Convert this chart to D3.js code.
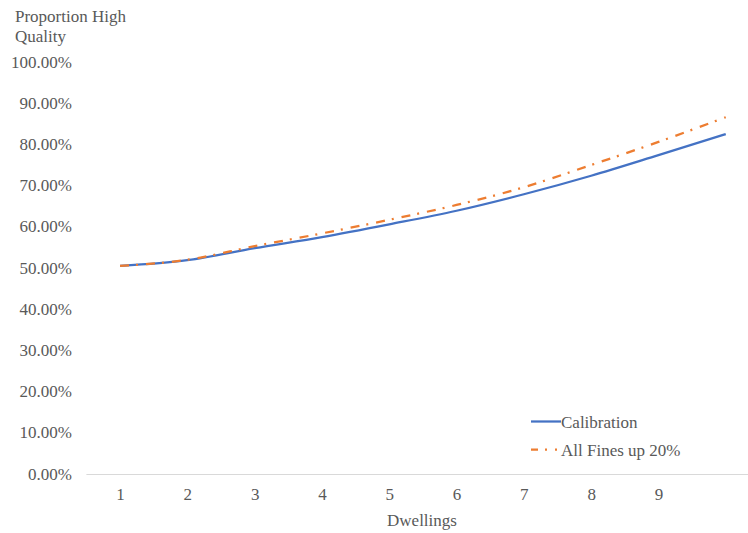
<!DOCTYPE html>
<html>
<head>
<meta charset="utf-8">
<script src="https://cdn.jsdelivr.net/npm/d3@7"></script>
<style>
  body { margin: 0; background: #fff; }
  svg text { font-family: 'Liberation Serif', 'Times New Roman', serif !important; fill: #595959; }
</style>
</head>
<body>
<svg id="chart" width="748" height="533" font-family="Liberation Serif"></svg>
<script>
// Data
const dwellings = [1, 2, 3, 4, 5, 6, 7, 8, 9, 10];
const tickLabels = ["1", "2", "3", "4", "5", "6", "7", "8", "9", ""];
const calibration = [0.505, 0.519, 0.548, 0.575, 0.606, 0.639, 0.679, 0.724, 0.774, 0.825];
const finesUp20 = [0.505, 0.520, 0.553, 0.584, 0.617, 0.653, 0.696, 0.750, 0.806, 0.866];
const yTicks = [0, 0.1, 0.2, 0.3, 0.4, 0.5, 0.6, 0.7, 0.8, 0.9, 1.0];
const seriesNames = ["Calibration", "All Fines up 20%"];

const svg = d3.select("#chart");
const plotLeft = 86.4, step = 67.3, plotTop = 62, plotBottom = 474;
const fs = 17;

const x = d3.scalePoint()
  .domain(dwellings)
  .range([plotLeft + step / 2, plotLeft + step * 9.5]);
const y = d3.scaleLinear().domain([0, 1]).range([plotBottom, plotTop]);

// y axis labels
svg.append("g").selectAll("text")
  .data(yTicks).join("text")
  .attr("x", 72).attr("y", d => y(d) + 5.5)
  .attr("text-anchor", "end")
  .attr("font-size", fs)
  .text(d => d3.format(".2%")(d));

// x axis
const xAxis = d3.axisBottom(x).tickSize(0).tickPadding(14)
  .tickFormat((d, i) => tickLabels[i]);
const gx = svg.append("g").attr("transform", `translate(0,${plotBottom})`).call(xAxis);
gx.attr("font-family", null).attr("font-size", null);
gx.select(".domain").remove();
gx.selectAll("text").attr("font-size", fs).attr("fill", "#595959");
svg.append("line")
  .attr("x1", plotLeft).attr("x2", 748).attr("y1", plotBottom + 0.5).attr("y2", plotBottom + 0.5)
  .attr("stroke", "#d9d9d9").attr("stroke-width", 1);

// titles
svg.append("text").attr("x", 15).attr("y", 22).attr("font-size", fs).text("Proportion High");
svg.append("text").attr("x", 15).attr("y", 42).attr("font-size", fs).text("Quality");
svg.append("text").attr("x", 422).attr("y", 526).attr("text-anchor", "middle").attr("font-size", fs).text("Dwellings");

// lines
const line = d3.line()
  .x((d, i) => x(dwellings[i]))
  .y(d => y(d))
  .curve(d3.curveMonotoneX);

svg.append("path").datum(calibration)
  .attr("d", line).attr("fill", "none")
  .attr("stroke", "#4472C4").attr("stroke-width", 2.25);

svg.append("path").datum(finesUp20)
  .attr("d", line).attr("fill", "none")
  .attr("stroke", "#ED7D31").attr("stroke-width", 2.25)
  .attr("stroke-dasharray", "9,7,2,8");

// legend
const legend = svg.append("g");
legend.append("line").attr("x1", 531).attr("x2", 561).attr("y1", 421.5).attr("y2", 421.5)
  .attr("stroke", "#4472C4").attr("stroke-width", 2.25);
legend.append("line").attr("x1", 531).attr("x2", 561).attr("y1", 449.5).attr("y2", 449.5)
  .attr("stroke", "#ED7D31").attr("stroke-width", 2.25)
  .attr("stroke-dasharray", "7,7,2,8,2,8");
legend.selectAll("text.lab").data(seriesNames).join("text")
  .attr("class", "lab")
  .attr("x", 561).attr("y", (d, i) => 427.5 + i * 28)
  .attr("font-size", fs)
  .text(d => d);
</script>
</body>
</html>
